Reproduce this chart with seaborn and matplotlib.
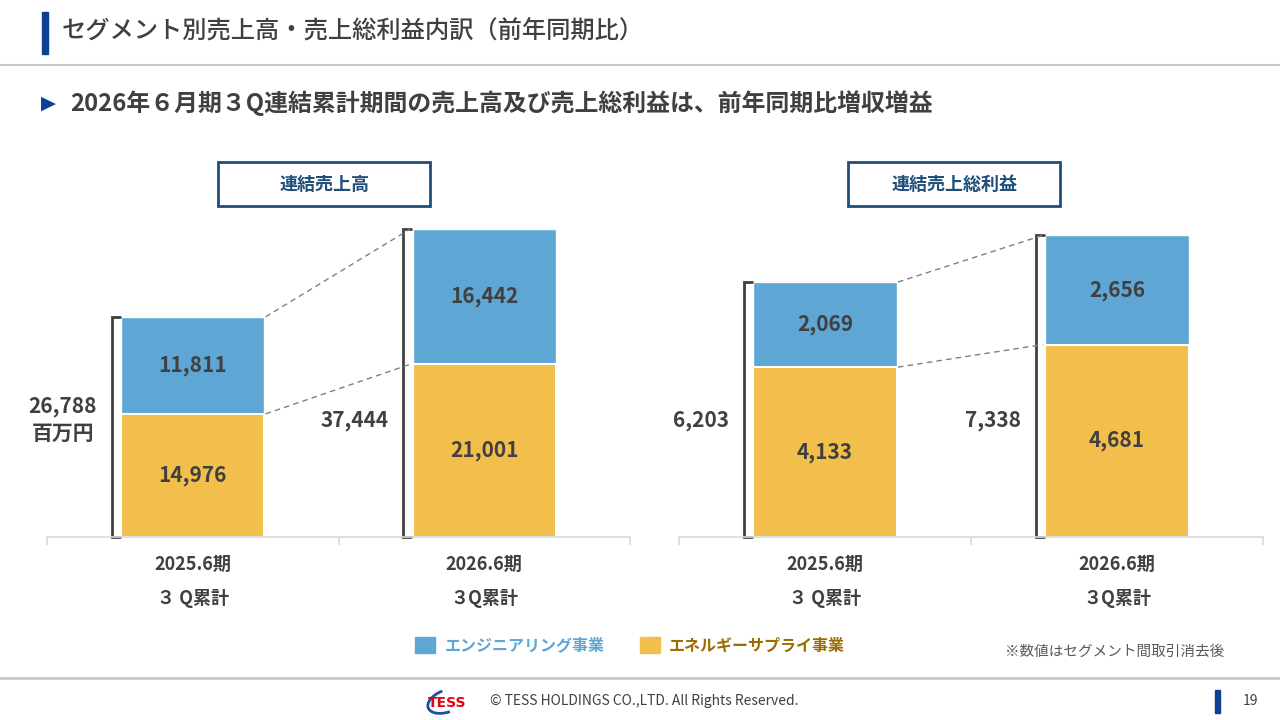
import matplotlib
matplotlib.use("Agg")
import matplotlib.pyplot as plt
import matplotlib.patches as patches
from matplotlib.lines import Line2D
import pandas as pd
import seaborn as sns

# データ（百万円）
periods = ["2025.6期\n３ Q累計", "2026.6期\n３Q累計"]
sales_eng = [11811, 16442]
sales_energy = [14976, 21001]
sales_total = [26788, 37444]
sales_total_labels = ["26,788\n百万円", "37,444"]
gp_eng = [2069, 2656]
gp_energy = [4133, 4681]
gp_total = [6203, 7338]
gp_total_labels = ["6,203", "7,338"]
legend_labels = ["エンジニアリング事業", "エネルギーサプライ事業"]

BLUE = "#5ea7d4"
ORANGE = "#f2bf4c"
DARK = "#404040"
NAVY = "#1f4e79"
HEAD_BLUE = "#0d3f94"

sns.set_theme(style="white")
plt.rcParams["font.family"] = ["Noto Sans CJK JP", "DejaVu Sans"]

fig = plt.figure(figsize=(12.8, 7.2), dpi=100)


def px(x, y):
    # ピクセル座標 -> figure座標
    return x / 1280, 1 - y / 720


def draw_panel(ax, eng, energy, total, total_labels, ymax):
    df = pd.DataFrame({"期": periods, "合計": total, "エネルギー": energy, "エンジ": eng})
    sns.barplot(data=df, x="期", y="合計", color=BLUE, saturation=1, width=0.49, ax=ax)
    sns.barplot(data=df, x="期", y="エネルギー", color=ORANGE, saturation=1, width=0.49,
                edgecolor="white", linewidth=1.5, ax=ax)
    ax.set_xlim(-0.5, 1.5)
    ax.set_ylim(0, ymax)
    ax.set_xlabel("")
    ax.set_ylabel("")
    ax.set_yticks([])
    for s in ["top", "left", "right"]:
        ax.spines[s].set_visible(False)
    ax.spines["bottom"].set_color("#d9d9d9")
    ax.spines["bottom"].set_linewidth(1.2)
    ax.set_xticks([0, 1])
    ax.set_xticklabels(periods, fontsize=13, fontweight="bold", color=DARK, linespacing=2.0)
    ax.tick_params(axis="x", which="major", bottom=True, length=0, pad=13)
    ax.set_xticks([-0.5, 0.5, 1.5], minor=True)
    ax.tick_params(axis="x", which="minor", bottom=True, length=6, color="#d9d9d9",
                   width=1.2, direction="out")

    for i in range(2):
        # 棒内の数値
        ax.text(i, energy[i] / 2, f"{energy[i]:,}", ha="center", va="center",
                fontsize=15, fontweight="bold", color=DARK)
        ax.text(i, energy[i] + eng[i] / 2, f"{eng[i]:,}", ha="center", va="center",
                fontsize=15, fontweight="bold", color=DARK)
        # 括弧
        xb = i - 0.278
        ax.plot([xb + 0.028, xb, xb, xb + 0.028], [0, 0, total[i], total[i]],
                color=DARK, lw=2, clip_on=False, solid_joinstyle="miter")
        # 合計ラベル
        ax.text(xb - 0.05, 0.369, total_labels[i], transform=ax.get_xaxis_transform(),
                ha="right", va="center", multialignment="center", fontsize=15,
                fontweight="bold", color=DARK, linespacing=1.3)

    # 点線
    dash = dict(color="#808080", lw=1, ls=(0, (4, 3)))
    ax.plot([0.25, 0.745], [total[0], total[1]], **dash)
    ax.plot([0.25, 0.745], [energy[0], energy[1]], **dash)


ax1 = fig.add_axes([47 / 1280, 1 - 537 / 720, 583 / 1280, 317 / 720])
ax2 = fig.add_axes([679 / 1280, 1 - 537 / 720, 584 / 1280, 317 / 720])
draw_panel(ax1, sales_eng, sales_energy, sales_total, sales_total_labels, 38560)
draw_panel(ax2, gp_eng, gp_energy, gp_total, gp_total_labels, 7712)

# 見出し
fig.patches.append(patches.Rectangle(px(42, 54), 6 / 1280, 42 / 720, transform=fig.transFigure,
                                     color=HEAD_BLUE))
fig.text(*px(62, 32), "セグメント別売上高・売上総利益内訳（前年同期比）", fontsize=17.5,
         color=DARK, va="center", ha="left", fontweight="medium")
fig.add_artist(Line2D([0, 1], [1 - 65 / 720] * 2, color="#c8c8c8", lw=1.5))

fig.text(*px(41, 103), "▶", fontsize=14, color=HEAD_BLUE, va="center", ha="left",
         family="DejaVu Sans")
fig.text(*px(70, 103), "2026年６月期３Q連結累計期間の売上高及び売上総利益は、前年同期比増収増益",
         fontsize=17.2, fontweight="bold", color=DARK, va="center", ha="left")

# パネル見出し
for x0, label in [(218, "連結売上高"), (848, "連結売上総利益")]:
    fig.patches.append(patches.Rectangle(px(x0, 206), 212 / 1280, 44 / 720,
                                         transform=fig.transFigure, fill=False,
                                         edgecolor=NAVY, lw=2))
    fig.text(*px(x0 + 106, 184), label, fontsize=13, fontweight="bold", color=NAVY,
             ha="center", va="center")

# 凡例
handles = [patches.Patch(color=BLUE), patches.Patch(color=ORANGE)]
leg = fig.legend(handles, legend_labels, loc="center", bbox_to_anchor=px(630, 645), ncol=2,
                 frameon=False, fontsize=11.5, handlelength=1.25, handleheight=1.25,
                 handletextpad=0.6, columnspacing=2.2, borderpad=0)
leg.get_texts()[0].set_color(BLUE)
leg.get_texts()[1].set_color("#9c6c00")
for t in leg.get_texts():
    t.set_fontweight("bold")

fig.text(*px(1005, 652), "※数値はセグメント間取引消去後", fontsize=10.5, color="#595959",
         ha="left", va="center")

# フッター
fig.add_artist(Line2D([0, 1], [1 - 678 / 720] * 2, color="#c8c8c8", lw=2))
fig.patches.append(patches.Arc((4.47, 0.19), 0.40, 0.22, angle=20, theta1=95, theta2=265,
                               transform=fig.dpi_scale_trans, color="#1d4fa0", lw=2))
fig.text(*px(447, 703), "TESS", fontsize=10, fontweight="bold", color="#e60012",
         ha="center", va="center", family="DejaVu Sans")
fig.text(*px(490, 701), "© TESS HOLDINGS CO.,LTD. All Rights Reserved.", fontsize=10,
         color=DARK, ha="left", va="center")
fig.patches.append(patches.Rectangle(px(1215, 713), 5 / 1280, 23 / 720, transform=fig.transFigure,
                                     color=HEAD_BLUE))
fig.text(*px(1250, 701), "19", fontsize=10, color=DARK, ha="center", va="center")

fig.savefig("out.png", dpi=100)
